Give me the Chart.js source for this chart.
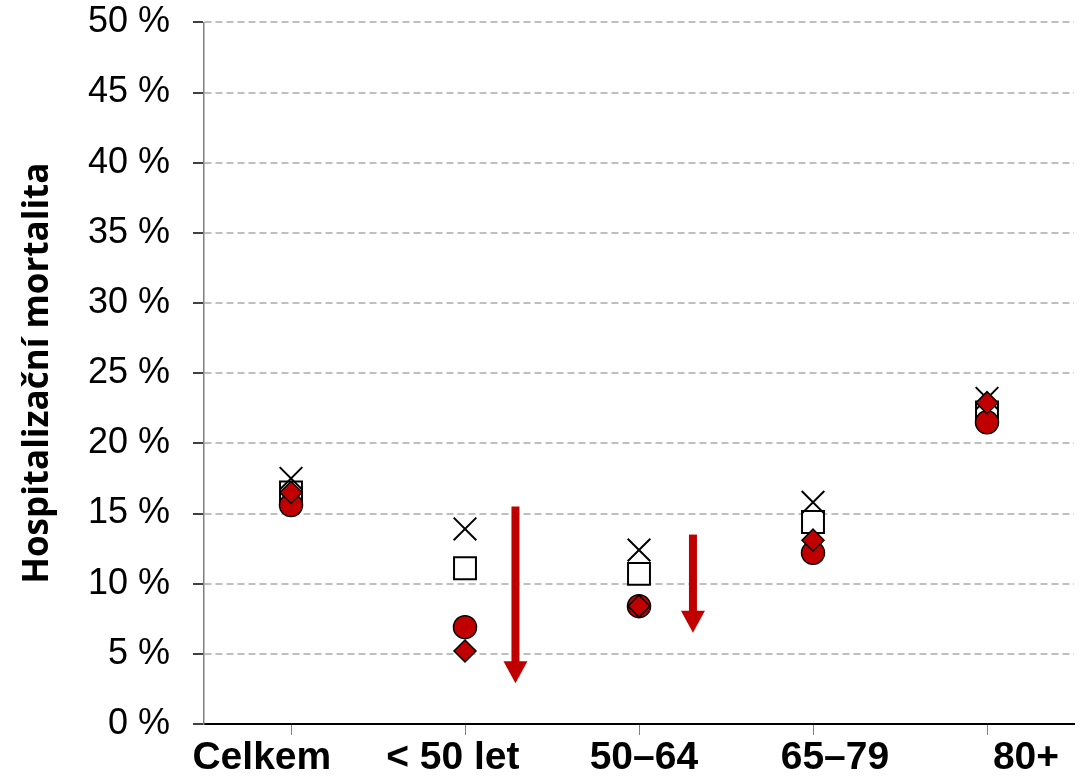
<!DOCTYPE html>
<html>
<head>
<meta charset="utf-8">
<script src="https://cdn.jsdelivr.net/npm/chart.js@4"></script>
<style>
  html, body { margin: 0; padding: 0; overflow: hidden; background: #fff; }
  #wrap { width: 1092px; height: 790px; margin-top: -6px; }
</style>
</head>
<body>
<div id="wrap"><canvas id="myChart"></canvas></div>
<script>
// kategorie a hodnoty (v %)
const categories = ["Celkem", "< 50 let", "50–64", "65–79", "80+"];
const crossValues = [17.5, 13.9, 12.4, 15.8, 23.2];
const squareValues = [16.5, 11.1, 10.7, 14.4, 22.2];
const circleValues = [15.6, 6.9, 8.4, 12.2, 21.5];
const diamondValues = [16.5, 5.2, 8.4, 13.1, 22.9];
const yTicks = [0, 5, 10, 15, 20, 25, 30, 35, 40, 45, 50];
// popisky kategorií jsou v originále rozložené trochu šířeji než body
const labelTicks = [0, 1, 2, 3, 4];

// šipky (pozice na ose x jako index kategorie, od/do v %)
const arrowX = [1.29, 2.31];
const arrowFrom = [15.5, 13.5];
const arrowTo = [2.9, 6.5];

const red = "#C00000";

const arrowPlugin = {
  id: "arrows",
  afterDatasetsDraw(chart) {
    const ctx = chart.ctx;
    const xs = chart.scales.x, ys = chart.scales.y;
    ctx.save();
    ctx.fillStyle = red;
    arrowX.forEach((ax, i) => {
      const x = xs.getPixelForValue(ax);
      const y0 = ys.getPixelForValue(arrowFrom[i]);
      const y1 = ys.getPixelForValue(arrowTo[i]);
      const headH = 22, headW = 12, shaft = 4;
      ctx.fillRect(x - shaft, y0, shaft * 2, (y1 - headH) - y0 + 1);
      ctx.beginPath();
      ctx.moveTo(x - headW, y1 - headH);
      ctx.lineTo(x + headW, y1 - headH);
      ctx.lineTo(x, y1);
      ctx.closePath();
      ctx.fill();
    });
    ctx.restore();
  }
};

const ctx = document.getElementById("myChart").getContext("2d");
const myChart = new Chart(ctx, {
  type: "line",
  data: {
    labels: categories,
    datasets: [
      {
        label: "diamond",
        data: diamondValues,
        showLine: false,
        pointStyle: "rectRot",
        pointRadius: 11,
        backgroundColor: red,
        borderColor: "#000",
        borderWidth: 1.5,
      },
      {
        label: "circle",
        data: circleValues,
        showLine: false,
        pointStyle: "circle",
        pointRadius: 11.5,
        backgroundColor: red,
        borderColor: "#000",
        borderWidth: 1.5,
      },
      {
        label: "cross",
        data: crossValues,
        showLine: false,
        pointStyle: "crossRot",
        pointRadius: 16,
        backgroundColor: "#000",
        borderColor: "#000",
        borderWidth: 2,
      },
      {
        label: "square",
        data: squareValues,
        showLine: false,
        pointStyle: "rect",
        pointRadius: 15.5,
        backgroundColor: "#fff",
        borderColor: "#000",
        borderWidth: 2,
      },
    ],
  },
  options: {
    responsive: true,
    maintainAspectRatio: false,
    animation: false,
    layout: { padding: { top: 0, left: 0, right: 0, bottom: 0 } },
    plugins: {
      legend: { display: false },
      tooltip: { enabled: false },
    },
    scales: {
      x: {
        offset: true,
        weight: 0,
        afterFit(s) { s.height = 11; },
        border: { color: "#000", width: 2 },
        grid: {
          drawOnChartArea: false,
          drawTicks: true,
          tickLength: 11,
          color: "#7f7f7f",
          lineWidth: 1,
        },
        ticks: { display: false },
      },
      x2: {
        type: "linear",
        position: "bottom",
        weight: 1,
        min: -0.3026,
        max: 4.2513,
        afterFit(s) { s.height = 49; },
        afterBuildTicks(s) { s.ticks = labelTicks.map(v => ({ value: v })); },
        border: { display: false },
        grid: { display: false, drawTicks: false },
        ticks: {
          color: "#000",
          maxRotation: 0,
          autoSkip: false,
          padding: 0,
          font: { family: "'Liberation Sans', Arial", size: 39, weight: "bold" },
          callback: (v) => categories[v],
        },
      },
      y: {
        min: 0,
        max: 50,
        afterFit(s) { s.width = 204; },
        afterBuildTicks(s) { s.ticks = yTicks.map(v => ({ value: v })); },
        border: { color: "#7f7f7f", width: 1.5, dash: [7, 4] },
        grid: {
          color: "#bfbfbf",
          lineWidth: 2,
          tickColor: "#000",
          tickLength: 11,
          tickWidth: 1.5,
          tickBorderDash: [],
        },
        ticks: {
          color: "#000",
          padding: 23,
          font: { family: "'Liberation Sans', Arial", size: 36, lineHeight: 0.3 },
          callback: (v) => v + " %",
        },
        title: {
          display: true,
          text: "Hospitalizační mortalita",
          color: "#000",
          padding: { top: 17, bottom: 0 },
          font: { family: "'Open Sans'", size: 35, weight: "bold" },
        },
      },
    },
  },
  plugins: [arrowPlugin],
});
</script>
</body>
</html>
